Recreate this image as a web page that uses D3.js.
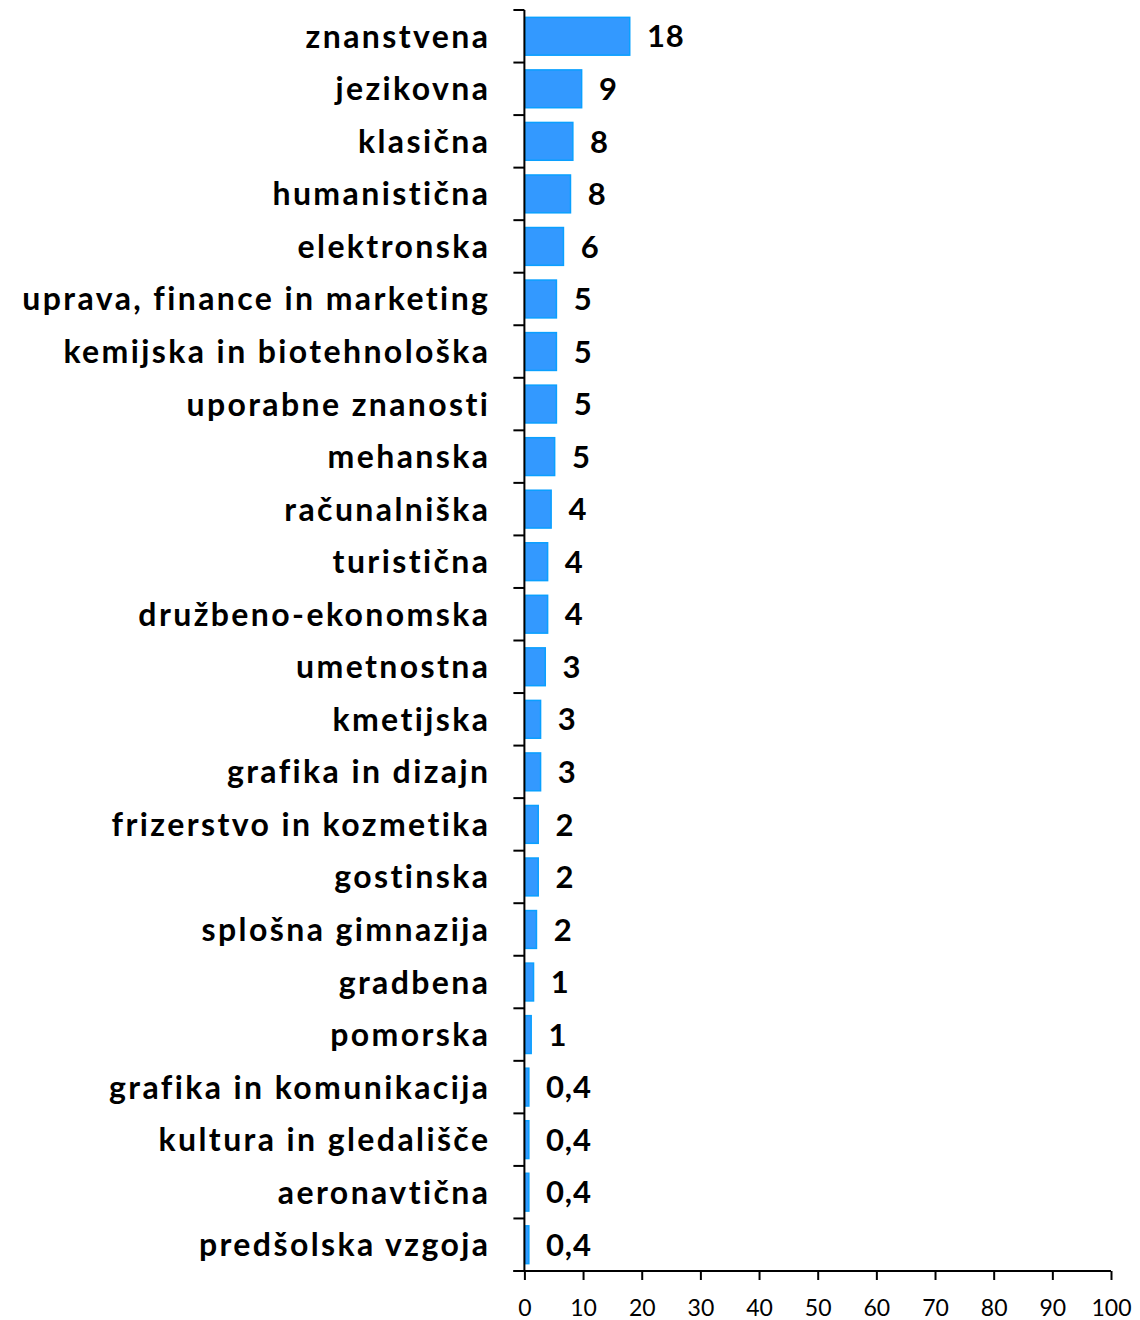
<!DOCTYPE html>
<html><head><meta charset="utf-8">
<script src="https://cdn.jsdelivr.net/npm/d3@7"></script>
<style>body{margin:0;background:#fff}</style>
</head><body>
<svg id="c" width="1140" height="1320"></svg>
<script>
const categories = ["znanstvena","jezikovna","klasična","humanistična","elektronska","uprava, finance in marketing","kemijska in biotehnološka","uporabne znanosti","mehanska","računalniška","turistična","družbeno-ekonomska","umetnostna","kmetijska","grafika in dizajn","frizerstvo in kozmetika","gostinska","splošna gimnazija","gradbena","pomorska","grafika in komunikacija","kultura in gledališče","aeronavtična","predšolska vzgoja"];
const values = [18.0,9.8,8.3,7.9,6.7,5.5,5.5,5.5,5.2,4.6,4.0,4.0,3.6,2.8,2.8,2.4,2.4,2.1,1.6,1.2,0.8,0.8,0.8,0.8];
const valueLabels = ["18","9","8","8","6","5","5","5","5","4","4","4","3","3","3","2","2","2","1","1","0,4","0,4","0,4","0,4"];
const xTicks = [0,10,20,30,40,50,60,70,80,90,100];

const svg = d3.select("#c");
const m = {left:524.4, right:1111, top:10, bottom:1271};
const x = d3.scaleLinear().domain([0,100]).range([m.left, m.right]);
const y = d3.scaleBand().domain(categories).range([m.top, m.bottom]).paddingInner(0.28).paddingOuter(0.14);
const yb = d3.scaleBand().domain(categories).range([m.top, m.bottom]);
const FONT = "Lato, 'Open Sans', sans-serif";

// bars
svg.append("g").selectAll("rect").data(categories).join("rect")
  .attr("x", x(0)+0.75)
  .attr("y", d=>y(d))
  .attr("width", (d,i)=>Math.max(0, x(values[i])-x(0)-1))
  .attr("height", y.bandwidth())
  .attr("fill","#3399ff").attr("stroke","#0aa0ff").attr("stroke-width",1.5);

// value labels
svg.append("g").selectAll("text").data(categories).join("text")
  .attr("x",(d,i)=>x(values[i])+17)
  .attr("y",d=>y(d)+y.bandwidth()/2)
  .attr("dy","0.36em")
  .attr("font-family",FONT).attr("font-weight","bold")
  .attr("font-size",31).attr("letter-spacing","0.8px").attr("fill","#000")
  .text((d,i)=>valueLabels[i]);

// y axis
const gy = svg.append("g").attr("transform",`translate(${m.left},0)`);
gy.append("line").attr("x1",0).attr("x2",0).attr("y1",m.top).attr("y2",m.bottom).attr("stroke","#000").attr("stroke-width",2);
const bounds = categories.map(d=>yb(d)).concat([m.bottom]);
gy.selectAll("line.t").data(bounds).join("line").attr("class","t")
  .attr("x1",-11).attr("x2",0).attr("y1",d=>d).attr("y2",d=>d).attr("stroke","#000").attr("stroke-width",2);
gy.selectAll("text").data(categories).join("text")
  .attr("x",-34).attr("y",d=>yb(d)+yb.bandwidth()/2).attr("dy","0.36em")
  .attr("text-anchor","end")
  .attr("font-family",FONT).attr("font-weight","bold")
  .attr("font-size",32).attr("fill","#000").attr("letter-spacing","2.4px")
  .text(d=>d);

// x axis
const gx = svg.append("g").attr("transform",`translate(0,${m.bottom})`)
  .call(d3.axisBottom(x).tickValues(xTicks).tickSize(9).tickPadding(20).tickSizeOuter(0));
gx.select(".domain").attr("stroke","#000").attr("stroke-width",2).attr("d",`M${m.left-11},0H${m.right}`);
gx.selectAll(".tick line").attr("stroke","#000").attr("stroke-width",2);
gx.selectAll(".tick text").attr("font-family",FONT).attr("font-size",23).attr("fill","#000");
</script>
</body></html>
